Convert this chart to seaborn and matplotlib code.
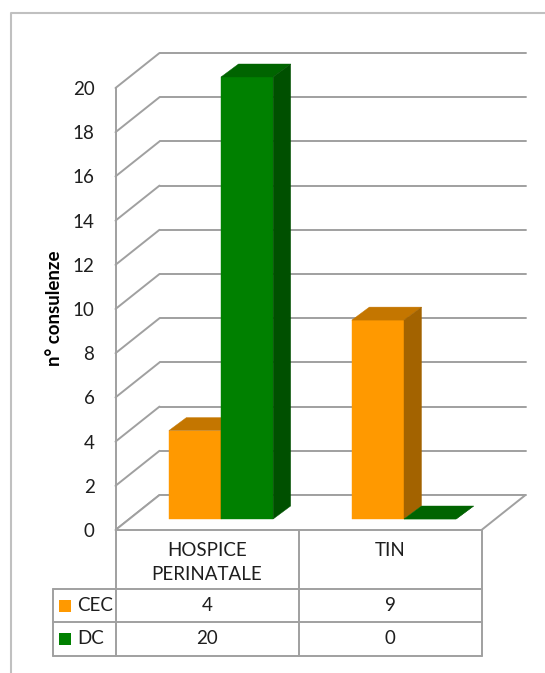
# ============================================================
# Consulenze: CEC vs DC per reparto (barre "3D" + tabella dati)
# ============================================================

import pandas as pd
import matplotlib
matplotlib.use("Agg")
import matplotlib.pyplot as plt
from matplotlib.patches import Polygon, Rectangle
import seaborn as sns

# ── Dati ───────────────────────────────────────────────────
categorie  = ["HOSPICE\nPERINATALE", "TIN"]
serie      = ["CEC", "DC"]
valori_cec = [4, 9]
valori_dc  = [20, 0]
y_ticks    = list(range(0, 22, 2))
y_label    = "n° consulenze"

colori_fronte = {"CEC": "#FF9900", "DC": "#008000"}
colori_sopra  = {"CEC": "#C47600", "DC": "#006400"}
colori_lato   = {"CEC": "#A36300", "DC": "#005000"}

df = pd.DataFrame({
    "categoria": categorie * 2,
    "serie":     [serie[0]] * len(categorie) + [serie[1]] * len(categorie),
    "valore":    valori_cec + valori_dc,
})

sns.set_theme(style="white")
plt.rcParams["font.family"] = ["Lato", "DejaVu Sans"]

W, H = 545, 673
fig = plt.figure(figsize=(W / 100, H / 100), dpi=100)

# livello in pixel (cornice, tabella, etichette)
bg = fig.add_axes([0, 0, 1, 1])
bg.set_xlim(0, W)
bg.set_ylim(H, 0)
bg.axis("off")

# livello dati (barre, pareti, griglia)
ax = fig.add_axes([0, 0, 1, 1])
ax.patch.set_alpha(0)

PX_X, PX_Y = 183.0, 22.1   # pixel per categoria / per unità
X0, Y0 = 221, 519          # pixel di categoria 0 / valore 0 sul piano delle barre

sns.barplot(data=df, x="categoria", y="valore", hue="serie",
            palette=colori_fronte, saturation=1, width=0.57,
            errorbar=None, linewidth=0, legend=False, ax=ax)
ax.set_xlim(-X0 / PX_X, (W - X0) / PX_X)
ax.set_ylim(-(H - Y0) / PX_Y, Y0 / PX_Y)
ax.axis("off")


def off(px, py):
    """offset in pixel -> offset in unità dati"""
    return px / PX_X, py / PX_Y


FRONT = off(-14, -11)
BACK  = off(30, 24)
DEPTH = off(17.5, 13)
grid_c, grid_lw = "#A0A0A0", 1.4
xl, xr = -0.5, len(categorie) - 0.5

# ── Pareti e griglia ───────────────────────────────────────
for k in y_ticks:
    ax.plot([xl + FRONT[0], xl + BACK[0]], [k + FRONT[1], k + BACK[1]],
            color=grid_c, lw=grid_lw, zorder=1, solid_capstyle="round")
    ax.plot([xl + BACK[0], xr + BACK[0]], [k + BACK[1]] * 2,
            color=grid_c, lw=grid_lw, zorder=1)
ax.plot([xl + FRONT[0]] * 2, [FRONT[1], y_ticks[-1] + FRONT[1]],
        color=grid_c, lw=grid_lw, zorder=1)

floor = Polygon([(xl + FRONT[0], FRONT[1]), (xr + FRONT[0], FRONT[1]),
                 (xr + BACK[0], BACK[1]), (xl + BACK[0], BACK[1])],
                closed=True, facecolor="white", edgecolor=grid_c,
                lw=grid_lw, zorder=1.5)
ax.add_patch(floor)

# ── Facce superiori e laterali delle barre ─────────────────
for i, (s, cont) in enumerate(zip(serie, ax.containers)):
    for bar in cont:
        bar.set_zorder(3 + i)
        bar.set_edgecolor(colori_fronte[s])
        bar.set_linewidth(0.3)
        x, w, h = bar.get_x(), bar.get_width(), bar.get_height()
        top = Polygon([(x, h), (x + w, h), (x + w + DEPTH[0], h + DEPTH[1]),
                       (x + DEPTH[0], h + DEPTH[1])], closed=True,
                      facecolor=colori_sopra[s], edgecolor=colori_sopra[s],
                      lw=0.3, zorder=3 + i)
        side = Polygon([(x + w, 0), (x + w + DEPTH[0], DEPTH[1]),
                        (x + w + DEPTH[0], h + DEPTH[1]), (x + w, h)], closed=True,
                       facecolor=colori_lato[s], edgecolor=colori_lato[s],
                       lw=0.3, zorder=3 + i)
        ax.add_patch(top)
        ax.add_patch(side)

# ── Etichette asse y ───────────────────────────────────────
txt_c, fs = "#1E1E1E", 13.5
for k in y_ticks:
    ax.text(xl + FRONT[0] - 21 / PX_X, k + FRONT[1] - 1.5 / PX_Y, str(k),
            ha="right", va="center", fontsize=fs, color=txt_c)
bg.text(54, 308, y_label, rotation=90, ha="center", va="center",
        fontsize=fs, fontweight="bold", color="black")

# ── Tabella dati ───────────────────────────────────────────
col_px = [ax.transData.transform((xl + FRONT[0] + j, 0))[0]
          for j in range(len(categorie) + 1)]
row_top, row_head, row_1, row_2 = 530, 589, 622, 656
tab_left = 53

for xp in col_px:
    bg.plot([xp, xp], [row_top, row_2], color=grid_c, lw=grid_lw)
bg.plot([tab_left, tab_left], [row_head, row_2], color=grid_c, lw=grid_lw)
for yp in (row_head, row_1, row_2):
    bg.plot([tab_left, col_px[-1]], [yp, yp], color=grid_c, lw=grid_lw)

for j, cat in enumerate(categorie):
    xc = (col_px[j] + col_px[j + 1]) / 2
    bg.text(xc, 542, cat, ha="center", va="top", fontsize=fs,
            color=txt_c, linespacing=1.5)
    bg.text(xc, (row_head + row_1) / 2, str(valori_cec[j]), ha="center",
            va="center", fontsize=fs, color=txt_c)
    bg.text(xc, (row_1 + row_2) / 2, str(valori_dc[j]), ha="center",
            va="center", fontsize=fs, color=txt_c)

for s, (y0, y1) in zip(serie, [(row_head, row_1), (row_1, row_2)]):
    yc = (y0 + y1) / 2
    bg.add_patch(Rectangle((59, yc - 6), 12, 12, facecolor=colori_fronte[s],
                           edgecolor="none"))
    bg.text(77, yc, s, ha="left", va="center", fontsize=fs, color=txt_c)

# ── Cornice esterna ────────────────────────────────────────
bg.plot([11, 11, W + 5], [H + 5, 13, 13], color="#C0C0C0", lw=1.5,
        clip_on=False)

fig.savefig("out.png", dpi=100)
